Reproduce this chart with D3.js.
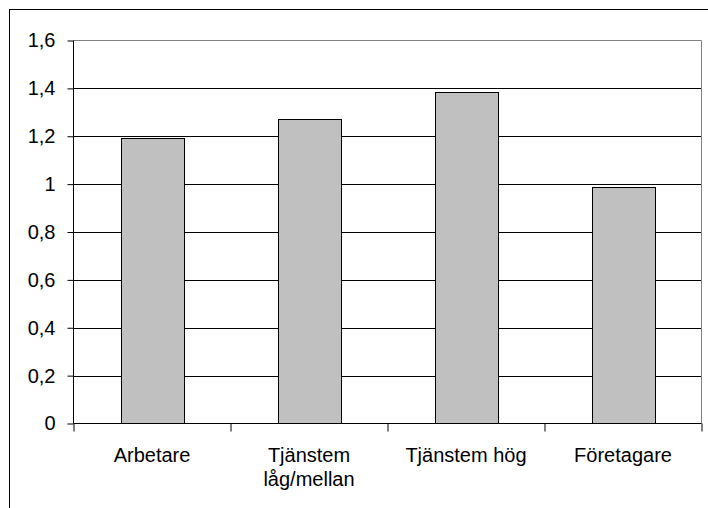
<!DOCTYPE html>
<html>
<head>
<meta charset="utf-8">
<script src="https://cdn.jsdelivr.net/npm/d3@7"></script>
<style>
  body { margin: 0; background: #fff; }
  svg { display: block; font-family: "Liberation Sans", Arial, sans-serif; }
</style>
</head>
<body>
<svg id="chart"></svg>
<script>
// Data
const categories = ['Arbetare', 'Tjänstem låg/mellan', 'Tjänstem hög', 'Företagare'];
const categoryLines = [['Arbetare'], ['Tjänstem', 'låg/mellan'], ['Tjänstem hög'], ['Företagare']];
const values = [1.192, 1.271, 1.384, 0.987];
const yTicks = [0, 0.2, 0.4, 0.6, 0.8, 1, 1.2, 1.4, 1.6];

const width = 708, height = 508;
const plot = { left: 73.5, right: 701.5, top: 40.5, bottom: 423.5 };

const svg = d3.select('#chart')
  .attr('width', width)
  .attr('height', height);

// Outer chart border (runs off the right and bottom edge)
svg.append('rect')
  .attr('x', 9.5).attr('y', 9.5)
  .attr('width', 760).attr('height', 560)
  .attr('fill', 'none')
  .attr('stroke', '#000');

// Scales
const x = d3.scaleBand()
  .domain(categories)
  .range([plot.left, plot.right])
  .paddingInner(0.6)
  .paddingOuter(0.3);

const xEdges = d3.scaleLinear()
  .domain([0, categories.length])
  .range([plot.left, plot.right]);

const y = d3.scaleLinear()
  .domain([0, 1.6])
  .range([plot.bottom, plot.top]);

// Gridlines
svg.append('g')
  .selectAll('line')
  .data(yTicks.filter(d => d > 0 && d < 1.6))
  .join('line')
    .attr('x1', plot.left)
    .attr('x2', plot.right)
    .attr('y1', d => Math.round(y(d)) + 0.5)
    .attr('y2', d => Math.round(y(d)) + 0.5)
    .attr('stroke', '#000');

// Plot area border (top & right, gray)
svg.append('path')
  .attr('d', `M${plot.left},${plot.top}H${plot.right}V${plot.bottom}`)
  .attr('fill', 'none')
  .attr('stroke', '#808080');

// Bars
svg.append('g')
  .selectAll('rect')
  .data(values)
  .join('rect')
    .attr('x', (d, i) => Math.round(x(categories[i])) + 0.5)
    .attr('y', d => Math.round(y(d)) + 0.5)
    .attr('width', Math.round(x.bandwidth()))
    .attr('height', d => plot.bottom - Math.round(y(d)) - 0.5)
    .attr('fill', '#c0c0c0')
    .attr('stroke', '#000')
    .attr('stroke-width', 1);

// Y axis
const yAxis = svg.append('g')
  .attr('transform', `translate(${plot.left},0)`)
  .call(d3.axisLeft(y)
    .tickValues(yTicks)
    .tickSize(6)
    .tickPadding(12)
    .tickFormat(d => String(d).replace('.', ',')));
yAxis.select('.domain').attr('stroke', '#000').attr('d', `M0,${plot.top}V${plot.bottom}`);
yAxis.selectAll('line').attr('stroke', '#000');
yAxis.selectAll('text')
  .attr('fill', '#000')
  .style('font-size', '20px');

// X axis
const xAxis = svg.append('g')
  .attr('transform', `translate(0,${plot.bottom})`)
  .call(d3.axisBottom(xEdges)
    .tickValues(d3.range(categories.length + 1))
    .tickSize(8)
    .tickFormat(''));
xAxis.select('.domain').attr('stroke', '#000').attr('d', `M${plot.left},0H${plot.right}`);
xAxis.selectAll('line').attr('stroke', '#000');

// Category labels
const labels = svg.append('g')
  .selectAll('text')
  .data(categories)
  .join('text')
    .attr('x', d => x(d) + x.bandwidth() / 2)
    .attr('y', 462)
    .attr('text-anchor', 'middle')
    .style('font-size', '20px')
    .attr('fill', '#000');

labels.each(function(d, i) {
  d3.select(this).selectAll('tspan')
    .data(categoryLines[i])
    .join('tspan')
      .attr('x', x(d) + x.bandwidth() / 2)
      .attr('dy', (t, j) => j === 0 ? 0 : 24)
      .text(t => t);
});
</script>
</body>
</html>
